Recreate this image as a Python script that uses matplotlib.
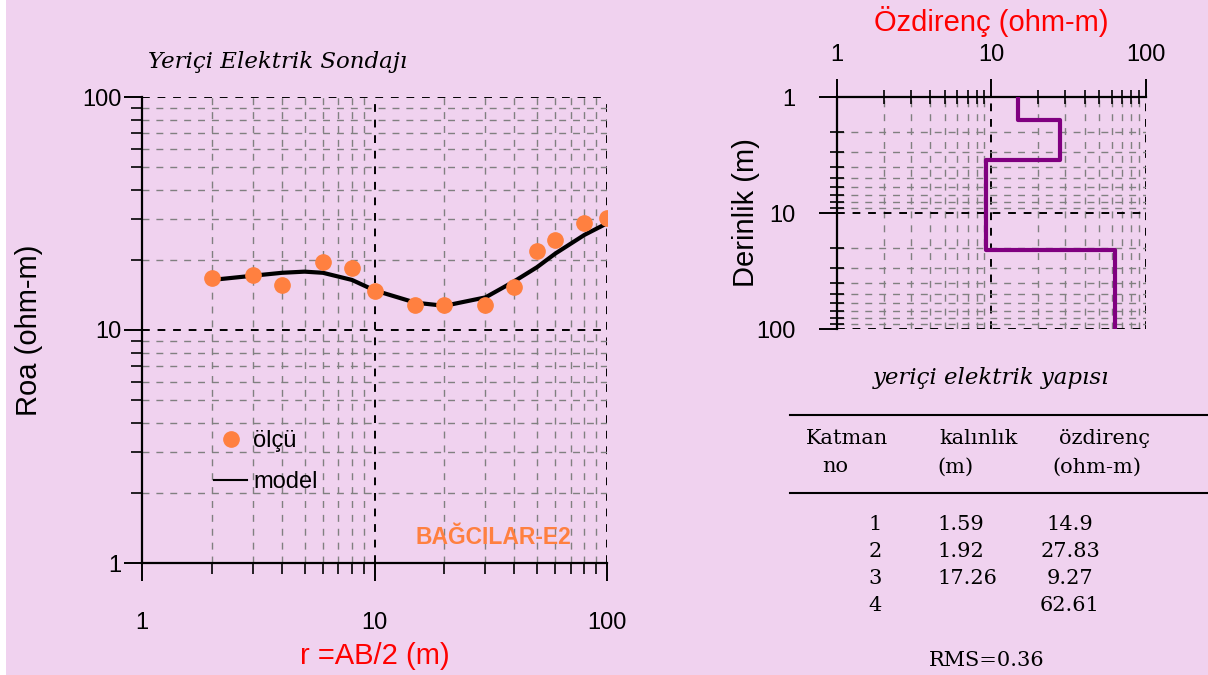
import matplotlib
matplotlib.use("Agg")
import matplotlib.pyplot as plt
from matplotlib.lines import Line2D
from matplotlib.patches import Rectangle
from matplotlib.ticker import LogLocator, FixedLocator, NullFormatter, FixedFormatter

# measured apparent resistivity (ölçü)
ab2 = [2, 3, 4, 6, 8, 10, 15, 20, 30, 40, 50, 60, 80, 100]
roa = [16.8, 17.2, 15.6, 19.6, 18.5, 14.7, 12.8, 12.8, 12.8, 15.3, 21.8, 24.3, 28.7, 30.3]

# model curve
model_x = [2, 3, 4, 5, 6, 8, 10, 15, 20, 30, 40, 50, 60, 80, 100]
model_y = [16.4, 17.1, 17.6, 17.8, 17.6, 16.4, 14.8, 13.1, 12.7, 13.8, 16.2, 18.6, 21.3, 25.6, 28.7]

# layered model
layer_no = ["1", "2", "3", "4"]
thickness = ["1.59", "1.92", "17.26", ""]
resist = ["14.9", "27.83", "9.27", "62.61"]
depth_steps = [1, 1.59, 1.59, 3.51, 3.51, 20.77, 20.77, 100]
res_steps = [14.9, 14.9, 27.83, 27.83, 9.27, 9.27, 62.61, 62.61]
rms = "RMS=0.36"

bg = "#f0d2ef"
orange = "#ff8040"
sans = ["Liberation Sans", "DejaVu Sans"]
serif = ["DejaVu Serif"]

fig = plt.figure(figsize=(12.08, 6.75), dpi=100, facecolor=bg)
# thin white strip at the left edge
fig.add_artist(Rectangle((0, 0), 6 / 1208, 1, transform=fig.transFigure,
                         facecolor="white", edgecolor="none"))


def log_grid(ax):
    ax.set_facecolor(bg)
    ax.grid(True, which="major", color="black", linestyle=(0, (4, 4)), lw=1.4)
    ax.grid(True, which="minor", color="#808080", linestyle=(0, (5, 5)), lw=1.0)
    ax.set_axisbelow(True)


# ---- left: sounding curve ----
ax = fig.add_axes([142 / 1208, 1 - 563 / 675, 465 / 1208, 466 / 675])
ax.set_xscale("log")
ax.set_yscale("log")
ax.set_xlim(1, 100)
ax.set_ylim(1, 100)
log_grid(ax)
for s in ["top", "right"]:
    ax.spines[s].set_visible(False)
for s in ["left", "bottom"]:
    ax.spines[s].set_linewidth(1.6)
ax.xaxis.set_major_locator(FixedLocator([1, 10, 100]))
ax.yaxis.set_major_locator(FixedLocator([1, 10, 100]))
ax.xaxis.set_minor_locator(LogLocator(subs=range(2, 10)))
ax.yaxis.set_minor_locator(LogLocator(subs=range(2, 10)))
ax.xaxis.set_minor_formatter(NullFormatter())
ax.yaxis.set_minor_formatter(NullFormatter())
ax.xaxis.set_major_formatter(FixedFormatter(["1", "10", "100"]))
ax.yaxis.set_major_formatter(FixedFormatter(["1", "10", "100"]))
ax.tick_params(which="major", direction="out", length=13, width=1.4, labelsize=17)
ax.tick_params(which="minor", direction="out", length=8, width=1.2)
ax.tick_params(axis="x", which="major", pad=22)
ax.tick_params(axis="y", which="major", pad=2)
for t in ax.get_xticklabels() + ax.get_yticklabels():
    t.set_family(sans)

ax.plot(model_x, model_y, color="black", lw=3, label="model", zorder=3)
ax.plot(ab2, roa, "o", color=orange, ms=11, label="ölçü", zorder=4)

h, l = ax.get_legend_handles_labels()
leg = ax.legend([h[1], Line2D([], [], color="black", lw=1.5)], [l[1], l[0]],
                loc="upper left", bbox_to_anchor=(0.13, 0.31), frameon=False,
                handlelength=1.4, handletextpad=0.25, labelspacing=0.8,
                borderpad=0, prop={"family": sans, "size": 17})

ax.text(0.755, 0.054, "BAĞCILAR-E2", transform=ax.transAxes, ha="center", va="center",
        color=orange, fontsize=16.5, fontweight="bold", family=["Liberation Sans"])
ax.set_ylabel("Roa (ohm-m)", fontsize=21, family=sans, labelpad=28)
ax.set_xlabel("r =AB/2 (m)", fontsize=21, family=sans, color="red", labelpad=6)
fig.text(148 / 1208, 1 - 62 / 675, "Yeriçi Elektrik Sondajı", family=serif, style="italic",
         fontsize=16.5, va="center", ha="left")

# ---- right: layer model ----
ax2 = fig.add_axes([837 / 1208, 1 - 329 / 675, 309 / 1208, 232 / 675])
ax2.set_xscale("log")
ax2.set_yscale("log")
ax2.set_xlim(1, 100)
ax2.set_ylim(100, 1)
log_grid(ax2)
for s in ["bottom", "right"]:
    ax2.spines[s].set_visible(False)
for s in ["left", "top"]:
    ax2.spines[s].set_linewidth(1.6)
ax2.xaxis.tick_top()
ax2.xaxis.set_label_position("top")
ax2.xaxis.set_major_locator(FixedLocator([1, 10, 100]))
ax2.yaxis.set_major_locator(FixedLocator([1, 10, 100]))
ax2.xaxis.set_minor_locator(LogLocator(subs=range(2, 10)))
ax2.yaxis.set_minor_locator(LogLocator(subs=range(2, 10)))
ax2.xaxis.set_minor_formatter(NullFormatter())
ax2.yaxis.set_minor_formatter(NullFormatter())
ax2.xaxis.set_major_formatter(FixedFormatter(["1", "10", "100"]))
ax2.yaxis.set_major_formatter(FixedFormatter(["1", "10", "100"]))
ax2.tick_params(which="major", direction="out", length=13, width=1.4, labelsize=17)
ax2.tick_params(which="minor", direction="inout", length=10, width=1.2)
ax2.tick_params(axis="x", which="major", pad=9)
ax2.tick_params(axis="y", which="major", pad=17)
for t in ax2.get_xticklabels() + ax2.get_yticklabels():
    t.set_family(sans)
ax2.plot(res_steps, depth_steps, color="#800080", lw=3, zorder=3)
ax2.set_xlabel("Özdirenç (ohm-m)", fontsize=21, family=sans, color="red", labelpad=10)
ax2.set_ylabel("Derinlik (m)", fontsize=21, family=sans, labelpad=-3)

# ---- table ----
def fx(px):
    return px / 1208


def fy(py):
    return 1 - py / 675


fig.text(fx(991), fy(378), "yeriçi elektrik yapısı", family=serif, style="italic",
         fontsize=16.5, ha="center", va="center")
for yy in [415, 493]:
    fig.add_artist(Line2D([fx(790), 1], [fy(yy), fy(yy)], transform=fig.transFigure,
                          color="black", lw=1.5))
tkw = dict(family=serif, fontsize=15, va="center")
fig.text(fx(847), fy(438), "Katman", ha="center", **tkw)
fig.text(fx(835), fy(467), "no", ha="center", **tkw)
fig.text(fx(979), fy(438), "kalınlık", ha="center", **tkw)
fig.text(fx(937), fy(467), "(m)", ha="left", **tkw)
fig.text(fx(1104), fy(438), "özdirenç", ha="center", **tkw)
fig.text(fx(1097), fy(467), "(ohm-m)", ha="center", **tkw)
for i in range(len(layer_no)):
    yy = 525 + i * 26.7
    fig.text(fx(882), fy(yy), layer_no[i], ha="right", **tkw)
    fig.text(fx(937), fy(yy), thickness[i], ha="left", **tkw)
    fig.text(fx(1070), fy(yy), resist[i], ha="center", **tkw)
fig.text(fx(987), fy(660), rms, ha="center", **tkw)

fig.savefig("out.png", dpi=100, facecolor=bg)
